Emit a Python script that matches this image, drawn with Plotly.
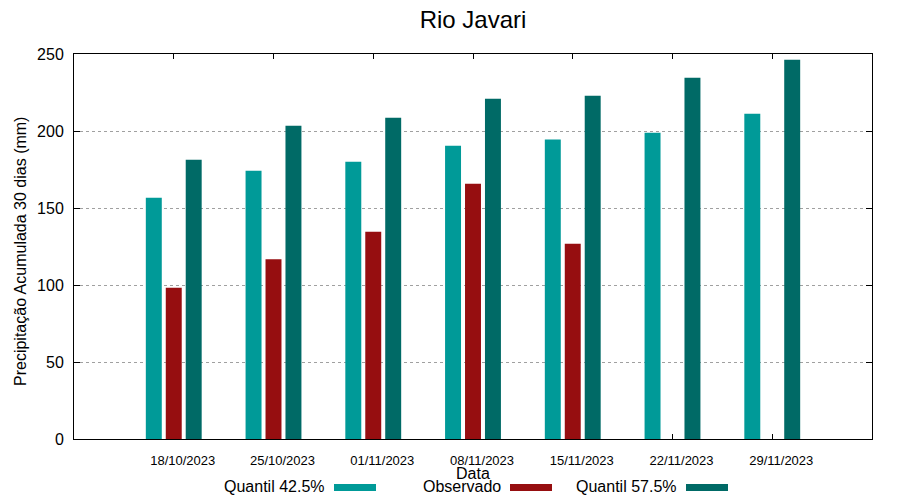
import plotly.graph_objects as go

# ---- data ----
dates = ["18/10/2023", "25/10/2023", "01/11/2023", "08/11/2023",
         "15/11/2023", "22/11/2023", "29/11/2023"]
q425 = [156.7, 174.2, 180.1, 190.5, 194.4, 198.9, 211.2]
observado = [98.2, 116.7, 134.6, 165.8, 126.8, None, None]
q575 = [181.4, 203.4, 208.6, 220.9, 222.9, 234.6, 246.3]

series_names = ["Quantil 42.5%", "Observado", "Quantil 57.5%"]
series_colors = ["#009a98", "#960e10", "#006a66"]
y_ticks = [0, 50, 100, 150, 200, 250]

W, H = 900, 500
OFF = 8  # page body margin in the browser
# plot area in screen pixels: x 74..872, y 54..439
SX0, SX1, SY0, SY1 = 74, 872, 54, 439
L, T = SX0 - OFF, SY0 - OFF
R, B = W - (SX1 - OFF), H - (SY1 - OFF)
PW, PH = SX1 - SX0, SY1 - SY0


def px(x):
    return (x - SX0) / PW


def py(y):
    return (SY1 - y) / PH


FONT = "Liberation Sans, Arial, sans-serif"

fig = go.Figure()
for name, vals, col in zip(series_names, [q425, observado, q575], series_colors):
    fig.add_trace(go.Bar(x=dates, y=vals, name=name, marker_color=col,
                         marker_line_width=0, showlegend=False))

fig.update_layout(
    width=W, height=H,
    margin=dict(l=L, r=R, t=T, b=B, pad=0),
    paper_bgcolor="white", plot_bgcolor="white",
    barmode="group", bargap=0.4, bargroupgap=0.2,
    font=dict(family=FONT, color="black"),
    title=dict(text="Rio Javari", x=px(473), xref="paper", xanchor="center",
               y=1 - (20 - OFF) / H, yanchor="middle", yref="container",
               font=dict(size=24, family=FONT, color="black")),
)

fig.update_xaxes(
    type="category", categoryorder="array", categoryarray=dates,
    range=[-1, 7], tickvals=dates, ticktext=dates,
    showgrid=False, showline=True, linecolor="black", linewidth=1,
    mirror="ticks", ticks="inside", ticklen=5, tickcolor="black",
    tickfont=dict(size=13, family=FONT, color="black"),
    ticklabelshift=9, ticklabelstandoff=9, layer="below traces",
)
fig.update_yaxes(
    range=[0, 250], tickvals=y_ticks,
    showgrid=True, gridcolor="#a0a0a0", griddash="dot", gridwidth=1,
    showline=True, linecolor="black", linewidth=1,
    mirror="ticks", ticks="inside", ticklen=6, tickcolor="black",
    tickfont=dict(size=16, family=FONT, color="black"),
    ticklabelstandoff=6, zeroline=False,
)

annotations = [
    dict(text="Data", x=px(473), y=py(474), xref="paper", yref="paper",
         xanchor="center", yanchor="middle", showarrow=False,
         font=dict(size=16, family=FONT, color="black")),
    dict(text="Precipitação Acumulada 30 dias (mm)", x=px(21), y=py(252),
         xref="paper", yref="paper", xanchor="center", yanchor="middle",
         textangle=-90, showarrow=False,
         font=dict(size=16, family=FONT, color="black")),
]
shapes = []
swatch_left = [334, 510, 686]
for name, col, sx in zip(series_names, series_colors, swatch_left):
    annotations.append(dict(text=name, x=px(sx - 7), y=py(486), xref="paper",
                            yref="paper", xanchor="right", yanchor="middle",
                            showarrow=False,
                            font=dict(size=16, family=FONT, color="black")))
    shapes.append(dict(type="rect", xref="paper", yref="paper",
                       x0=px(sx), x1=px(sx + 42), y0=py(484), y1=py(491),
                       fillcolor=col, line_width=0, layer="above"))

fig.update_layout(annotations=annotations, shapes=shapes)

fig.write_html("out.html")
